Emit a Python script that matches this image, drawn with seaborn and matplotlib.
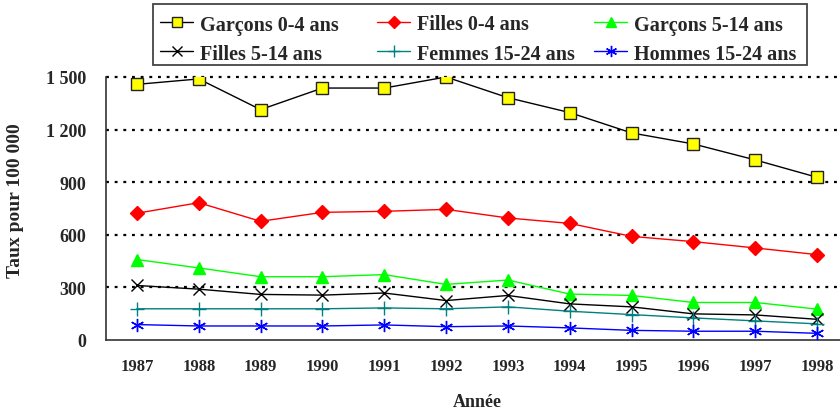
import numpy as np
import pandas as pd
import seaborn as sns
import matplotlib
matplotlib.use("Agg")
import matplotlib.pyplot as plt
from matplotlib.lines import Line2D
from matplotlib.patches import Rectangle
from matplotlib.ticker import FixedLocator

years = [1987, 1988, 1989, 1990, 1991, 1992, 1993, 1994, 1995, 1996, 1997, 1998]

garcons_0_4 = [1458, 1489, 1314, 1437, 1437, 1500, 1382, 1297, 1181, 1118, 1027, 928]
filles_0_4 = [723, 783, 677, 728, 734, 745, 696, 665, 591, 561, 525, 487]
garcons_5_14 = [459, 411, 361, 361, 373, 317, 342, 262, 254, 214, 214, 176]
filles_5_14 = [311, 290, 260, 256, 268, 225, 254, 206, 189, 149, 143, 118]
femmes_15_24 = [178, 178, 178, 178, 183, 178, 189, 164, 145, 126, 109, 92]
hommes_15_24 = [88, 80, 80, 80, 86, 76, 80, 69, 55, 50, 50, 38]

series_names = ["Garçons 0-4 ans", "Filles 0-4 ans", "Garçons 5-14 ans",
                "Filles 5-14 ans", "Femmes 15-24 ans", "Hommes 15-24 ans"]
series_values = [garcons_0_4, filles_0_4, garcons_5_14,
                 filles_5_14, femmes_15_24, hommes_15_24]

y_ticks = [0, 300, 600, 900, 1200, 1500]
y_tick_labels = ["0", "300", "600", "900", "1 200", "1 500"]

df = pd.DataFrame({
    "idx": np.tile(np.arange(len(years)), len(series_names)),
    "taux": np.concatenate(series_values),
    "serie": np.repeat(series_names, len(years)),
})

styles = {
    "Garçons 0-4 ans": dict(color="black", marker="s", mfc="#FFFF00", mec="#222222", ms=9, mew=1.0),
    "Filles 0-4 ans": dict(color="#FF0000", marker="D", mfc="#FF0000", mec="#FF0000", ms=7.5, mew=1.0),
    "Garçons 5-14 ans": dict(color="#00FF00", marker="^", mfc="#00FF00", mec="#00FF00", ms=8.5, mew=1.0),
    "Filles 5-14 ans": dict(color="black", marker="x", mfc="black", mec="black", ms=8, mew=1.0),
    "Femmes 15-24 ans": dict(color="#008080", marker="+", mfc="#008080", mec="#008080", ms=10, mew=1.0),
    "Hommes 15-24 ans": dict(color="#0000FF", marker=(6, 2, 0), mfc="#0000FF", mec="#0000FF", ms=9.5, mew=1.0),
}

sns.set_style("white")
plt.rcParams["font.family"] = ["Liberation Serif", "DejaVu Serif"]
plt.rcParams["font.weight"] = "bold"

W, H = 840, 410
fig = plt.figure(figsize=(W / 100, H / 100), dpi=100)
ax = fig.add_axes([106 / W, 69 / H, 742 / W, 263 / H])

palette = {n: styles[n]["color"] for n in series_names}
sns.lineplot(data=df, x="idx", y="taux", hue="serie", palette=palette,
             hue_order=series_names, ax=ax, lw=1.0, legend=False, zorder=3)
for name in series_names:
    st = styles[name]
    sub = df[df["serie"] == name]
    ax.plot(sub["idx"], sub["taux"], linestyle="none", marker=st["marker"],
            markersize=st["ms"], markerfacecolor=st["mfc"],
            markeredgecolor=st["mec"], markeredgewidth=st["mew"], zorder=4)

ax.set_xlim(-0.5, len(years) - 0.5)
ax.set_ylim(0, 1500)

# dotted horizontal gridlines above zero
for y in y_ticks[1:]:
    ax.axhline(y, color="black", lw=1.6, ls=(0, (1.3, 2.6)), zorder=1, clip_on=False)

ax.set_yticks(y_ticks)
ax.set_yticklabels(y_tick_labels, fontsize=13, fontweight="bold")
ax.tick_params(axis="y", direction="out", length=6, width=1, color="#333333", pad=8.5)

# tick marks on category boundaries, year labels centred in each category
ax.xaxis.set_major_locator(FixedLocator(np.arange(-0.5, len(years), 1.0)))
ax.set_xticklabels([])
ax.set_xticks(np.arange(len(years)), minor=True)
ax.set_xticklabels([str(y) for y in years], minor=True, fontsize=12, fontweight="bold")
ax.tick_params(axis="x", which="major", direction="out", length=6, width=1, color="#333333")
ax.tick_params(axis="x", which="minor", length=0, pad=13)

for side in ["top", "right"]:
    ax.spines[side].set_visible(False)
for side in ["left", "bottom"]:
    ax.spines[side].set_color("#333333")
    ax.spines[side].set_linewidth(1.2)

ax.set_xlabel("Année", fontsize=13, fontweight="bold")
ax.xaxis.label.set_va("center")
ax.xaxis.set_label_coords(0.5, -0.232)
ax.set_ylabel("Taux pour 100 000", fontsize=14, fontweight="bold")
ax.yaxis.label.set_va("center")
ax.yaxis.set_label_coords(-0.1226, 0.532)

# legend box: three columns, two rows
def fx(px):
    return px / W

def fy(py):
    return 1 - py / H

fig.add_artist(Rectangle((fx(153), fy(66)), fx(807) - fx(153), fy(5) - fy(66),
                         transform=fig.transFigure, facecolor="white",
                         edgecolor="#444444", lw=1.3, zorder=5))
col_x = [160, 377, 594]
row_y = [23, 52]
legend_layout = [["Garçons 0-4 ans", "Filles 0-4 ans", "Garçons 5-14 ans"],
                 ["Filles 5-14 ans", "Femmes 15-24 ans", "Hommes 15-24 ans"]]
for r, row in enumerate(legend_layout):
    for c, name in enumerate(row):
        st = styles[name]
        x0 = col_x[c]
        y0 = row_y[r]
        fig.add_artist(Line2D([fx(x0), fx(x0 + 33)], [fy(y0), fy(y0)],
                              transform=fig.transFigure, color=st["color"], lw=1.0, zorder=6))
        fig.add_artist(Line2D([fx(x0 + 16.5)], [fy(y0)], transform=fig.transFigure,
                              linestyle="none", marker=st["marker"], markersize=st["ms"] * 0.85,
                              markerfacecolor=st["mfc"], markeredgecolor=st["mec"],
                              markeredgewidth=st["mew"], zorder=7))
        fig.text(fx(x0 + 40), fy(y0), name, fontsize=14.5, fontweight="bold",
                 ha="left", va="center_baseline", zorder=7)

fig.savefig("out.png", dpi=100)
